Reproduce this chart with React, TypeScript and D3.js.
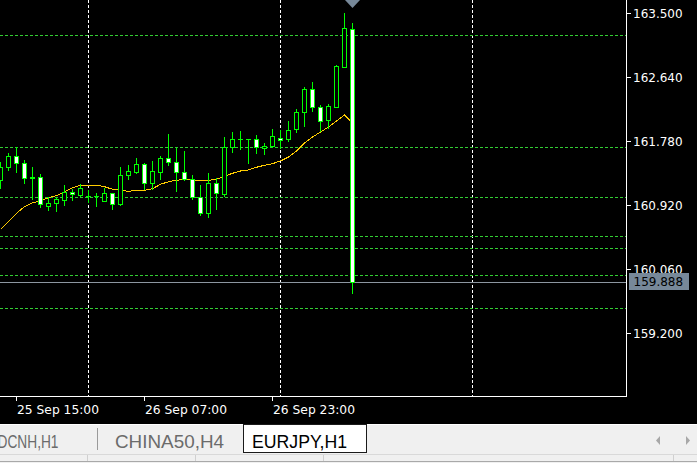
import React from 'react';
import * as d3 from 'd3';

const W = 697;
const H = 463;

// ---- data ----
const openP = [161.260, 161.428, 161.587, 161.485, 161.300, 161.296, 160.911, 160.947, 160.991, 161.095, 161.059, 161.049, 161.045, 160.982, 161.081, 160.934, 161.323, 161.372, 161.475, 161.216, 161.372, 161.552, 161.498, 161.372, 161.270, 161.028, 160.813, 161.216, 161.072, 161.708, 161.807, 161.807, 161.807, 161.686, 161.713, 161.821, 161.807, 161.942, 162.170, 162.479, 162.237, 162.062, 162.245, 162.775, 163.285];
const highP = [161.502, 161.623, 161.700, 161.529, 161.439, 161.341, 161.028, 161.036, 161.193, 161.135, 161.206, 161.126, 161.081, 161.149, 161.086, 161.431, 161.462, 161.552, 161.493, 161.516, 161.583, 161.878, 161.686, 161.650, 161.327, 161.193, 161.358, 161.283, 161.834, 161.905, 161.919, 161.807, 161.865, 161.753, 161.942, 161.932, 162.057, 162.208, 162.510, 162.581, 162.268, 162.281, 162.806, 163.508, 163.366];
const lowP = [161.153, 161.395, 161.372, 161.224, 161.005, 160.901, 160.857, 160.848, 160.924, 160.991, 161.045, 160.969, 160.915, 160.982, 160.866, 160.920, 161.270, 161.350, 161.135, 161.135, 161.270, 161.462, 161.116, 161.260, 161.001, 160.790, 160.759, 160.875, 161.045, 161.641, 161.673, 161.485, 161.619, 161.606, 161.700, 161.690, 161.788, 161.909, 161.986, 162.191, 161.923, 161.959, 162.241, 162.775, 159.746];
const closeP = [161.431, 161.587, 161.485, 161.283, 161.287, 160.938, 160.947, 161.001, 161.095, 161.068, 161.149, 161.045, 161.039, 161.081, 160.934, 161.323, 161.377, 161.471, 161.216, 161.377, 161.552, 161.498, 161.372, 161.270, 161.028, 160.813, 161.216, 161.081, 161.708, 161.807, 161.807, 161.807, 161.700, 161.717, 161.851, 161.794, 161.932, 162.174, 162.479, 162.237, 162.057, 162.255, 162.792, 163.299, 159.888];
const maP = [160.598, 160.700, 160.813, 160.901, 160.955, 160.978, 161.022, 161.049, 161.103, 161.157, 161.189, 161.189, 161.189, 161.170, 161.135, 161.122, 161.108, 161.122, 161.122, 161.143, 161.202, 161.237, 161.256, 161.270, 161.260, 161.247, 161.256, 161.270, 161.310, 161.350, 161.381, 161.395, 161.431, 161.458, 161.479, 161.516, 161.569, 161.650, 161.757, 161.838, 161.905, 161.972, 162.053, 162.134, 162.030];

const priceTicks = [163.5, 162.64, 161.78, 160.92, 160.06, 159.2];
const levelLines = [163.208, 161.703, 161.032, 160.508, 160.346, 159.983, 159.54];
const lastPrice = 159.888;
const timeLabels = ['25 Sep 15:00', '26 Sep 07:00', '26 Sep 23:00'];
const timeLabelBars = [2, 18, 34];
const gridBars = [11, 35, 59];
const tabNames = ['USDCNH,H1', 'CHINA50,H4', 'EURJPY,H1'];

const LIME = '#00ff00';

export default function App() {
  const plotRight = 626.5;
  const plotBottom = 396.5;
  const x = d3.scaleLinear().domain([0, 44]).range([0, 352]);
  const y = d3.scaleLinear().domain([159.2, 163.5]).range([333.3, 13.3]);
  const px = (i: number) => Math.round(x(i)) + 0.5;
  const py = (v: number) => Math.round(y(v)) + 0.5;

  const maLine = d3
    .line<number>()
    .x((_, i) => px(i))
    .y((d) => y(d))(maP) as string;

  const bars = d3.range(openP.length);
  const fmt = d3.format('.3f');

  return (
    <div style={{ position: 'fixed', left: 0, top: 0, width: W, height: H }}>
      <svg width={W} height={H} style={{ display: 'block', fontFamily: 'DejaVu Sans' }}>
        <rect x={0} y={0} width={W} height={H} fill="#000" />

        {/* vertical grid */}
        {gridBars.map((b) => (
          <line key={'g' + b} x1={px(b)} x2={px(b)} y1={0} y2={plotBottom} stroke="#ffffff" strokeDasharray="3,2" shapeRendering="crispEdges" />
        ))}

        {/* horizontal level lines */}
        {levelLines.map((v) => (
          <line key={'l' + v} x1={0} x2={plotRight} y1={py(v)} y2={py(v)} stroke="#32cd32" strokeDasharray="3,2" shapeRendering="crispEdges" />
        ))}

        {/* current price line */}
        <line x1={0} x2={plotRight} y1={py(lastPrice)} y2={py(lastPrice)} stroke="#8c96a0" shapeRendering="crispEdges" />

        {/* moving average */}
        <path d={maLine} fill="none" stroke="#ffcc00" strokeWidth={1} shapeRendering="crispEdges" />

        {/* candles */}
        {bars.map((i) => {
          const cx = px(i);
          const o = openP[i];
          const c = closeP[i];
          const yo = Math.round(y(o));
          const yc = Math.round(y(c));
          const top = Math.min(yo, yc);
          const bot = Math.max(yo, yc);
          const bull = c > o;
          return (
            <g key={'c' + i} shapeRendering="crispEdges">
              <line x1={cx} x2={cx} y1={Math.round(y(highP[i]))} y2={Math.round(y(lowP[i])) + 1} stroke={LIME} />
              {bot - top < 1 ? (
                <line x1={cx - 2.5} x2={cx + 2.5} y1={top + 0.5} y2={top + 0.5} stroke={LIME} />
              ) : (
                <rect x={cx - 2} y={top + 0.5} width={4} height={bot - top} fill={bull ? '#000' : '#fff'} stroke={LIME} />
              )}
            </g>
          );
        })}

        {/* top marker */}
        <polygon points={`${px(44) - 7.5},0 ${px(44) + 7.5},0 ${px(44)},8`} fill="#778899" />

        {/* axes frame */}
        <line x1={plotRight} x2={plotRight} y1={0} y2={plotBottom} stroke="#fff" shapeRendering="crispEdges" />
        <line x1={0} x2={plotRight} y1={plotBottom} y2={plotBottom} stroke="#fff" shapeRendering="crispEdges" />

        {/* price axis */}
        {priceTicks.map((v) => (
          <g key={'p' + v}>
            <line x1={plotRight} x2={631} y1={py(v)} y2={py(v)} stroke="#fff" shapeRendering="crispEdges" />
            <text x={633} y={py(v) + 4.5} fill="#fff" fontSize={12}>
              {fmt(v)}
            </text>
          </g>
        ))}
        <rect x={629} y={273} width={60} height={17} fill="#778899" />
        <text x={633.5} y={286} fill="#000" fontSize={12}>
          {fmt(lastPrice)}
        </text>

        {/* time axis */}
        {timeLabelBars.map((b, i) => (
          <g key={'t' + b}>
            <line x1={px(b)} x2={px(b)} y1={plotBottom} y2={401} stroke="#fff" shapeRendering="crispEdges" />
            <text x={px(b) + 0.5} y={413.5} fill="#fff" fontSize={12} textLength={82} lengthAdjust="spacingAndGlyphs">
              {timeLabels[i]}
            </text>
          </g>
        ))}

        {/* tab bar */}
        <rect x={0} y={424} width={W} height={H - 424} fill="#f0f0f0" />
        <line x1={0} x2={W} y1={424.5} y2={424.5} stroke="#ffffff" shapeRendering="crispEdges" />
        <line x1={0} x2={W} y1={454.5} y2={454.5} stroke="#d9d9d9" shapeRendering="crispEdges" />
        <line x1={0} x2={W} y1={461.5} y2={461.5} stroke="#a9a9a9" shapeRendering="crispEdges" />
        {[87, 195, 323, 673].map((sx) => (
          <line key={'s' + sx} x1={sx + 0.5} x2={sx + 0.5} y1={455} y2={461} stroke="#d0d0d0" shapeRendering="crispEdges" />
        ))}
        <line x1={97.5} x2={97.5} y1={428} y2={450} stroke="#9a9a9a" shapeRendering="crispEdges" />
        <text x={58.5} y={447.5} textAnchor="end" fill="#6b6b6b" fontFamily="Liberation Sans" fontSize={19} textLength={80} lengthAdjust="spacingAndGlyphs">
          {tabNames[0]}
        </text>
        <text x={115} y={447.5} fill="#6b6b6b" fontFamily="Liberation Sans" fontSize={19} textLength={109} lengthAdjust="spacingAndGlyphs">
          {tabNames[1]}
        </text>
        <rect x={243.5} y={424.5} width={123} height={28} fill="#ffffff" stroke="#1a1a1a" shapeRendering="crispEdges" />
        <text x={252} y={447.5} fill="#000" fontFamily="Liberation Sans" fontSize={19} textLength={95} lengthAdjust="spacingAndGlyphs">
          {tabNames[2]}
        </text>
        <polygon points="660,436 660,445 656,440.5" fill="#a8a8a8" />
        <polygon points="686,436 686,445 690,440.5" fill="#a8a8a8" />
      </svg>
    </div>
  );
}
